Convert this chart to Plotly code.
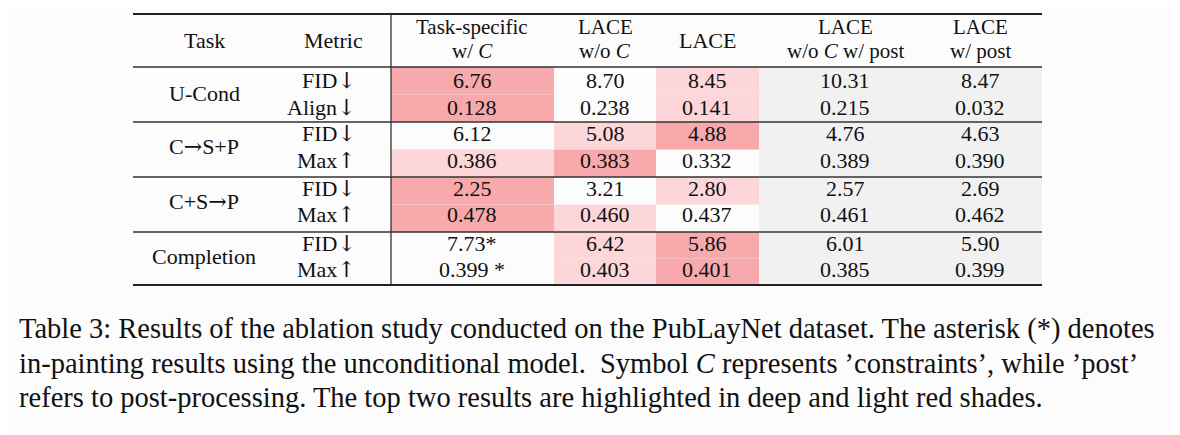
import plotly.graph_objects as go

# table content
ARR = "<span style='font-family:DejaVu Serif'>{}</span>"
DOWN, UP, RIGHT = ARR.format("\u2193"), ARR.format("\u2191"), ARR.format("\u2192")
tasks = ["U-Cond", "C" + RIGHT + "S+P", "C+S" + RIGHT + "P", "Completion"]
metrics = ["FID" + DOWN, "Align" + DOWN, "FID" + DOWN, "Max" + UP,
           "FID" + DOWN, "Max" + UP, "FID" + DOWN, "Max" + UP]
headers = [["Task-specific", "w/ <i>C</i>"], ["LACE", "w/o <i>C</i>"], ["LACE"],
           ["LACE", "w/o <i>C</i> w/ post"], ["LACE", "w/ post"]]
task_specific = ["6.76", "0.128", "6.12", "0.386", "2.25", "0.478", "7.73*", "0.399 *"]
lace_wo_c = ["8.70", "0.238", "5.08", "0.383", "3.21", "0.460", "6.42", "0.403"]
lace = ["8.45", "0.141", "4.88", "0.332", "2.80", "0.437", "5.86", "0.401"]
lace_wo_c_post = ["10.31", "0.215", "4.76", "0.389", "2.57", "0.461", "6.01", "0.385"]
lace_post = ["8.47", "0.032", "4.63", "0.390", "2.69", "0.462", "5.90", "0.399"]
# 1 = best (deep red), 2 = second (light red), 0 = none
rank_ts = [1, 1, 0, 2, 1, 1, 0, 0]
rank_wo_c = [0, 0, 2, 1, 0, 2, 2, 2]
rank_lace = [2, 2, 1, 0, 2, 0, 1, 1]

caption = [
    "Table 3: Results of the ablation study conducted on the PubLayNet dataset. The asterisk (*) denotes",
    "in-painting results using the unconditional model.  Symbol <i>C</i> represents \u2019constraints\u2019, while \u2019post\u2019",
    "refers to post-processing. The top two results are highlighted in deep and light red shades.",
]

# layout geometry (pixel-like axis units; page body has an 8px margin)
OFF = 8
col_edges = [391, 554, 656, 759, 930, 1042]
col_centers = [472, 605, 707, 845, 980]
task_x, metric_x, metric_right = 204, 333, 358
left, right = 133, 1042
top, head_bottom = 14, 67
group_edges = [67, 122, 177, 232, 285]
row_y = [80, 107, 133, 160, 188, 214, 243, 269]

deep, light, grey = "#f7a9ab", "#fcd6d8", "#f1f1f1"
font = "Liberation Serif"

fig = go.Figure()
shapes = []
annots = []

# grey post-processing columns
shapes.append(dict(type="rect", x0=col_edges[3], x1=right, y0=head_bottom, y1=group_edges[-1],
                   fillcolor=grey, line_width=0, layer="below"))

# highlighted cells
for ci, ranks in enumerate([rank_ts, rank_wo_c, rank_lace]):
    for ri, r in enumerate(ranks):
        if r == 0:
            continue
        g = ri // 2
        mid = (group_edges[g] + group_edges[g + 1]) / 2
        y0 = group_edges[g] if ri % 2 == 0 else mid
        y1 = mid if ri % 2 == 0 else group_edges[g + 1]
        shapes.append(dict(type="rect", x0=col_edges[ci], x1=col_edges[ci + 1], y0=y0, y1=y1,
                           fillcolor=deep if r == 1 else light, line_width=0, layer="below"))

# rules
shapes.append(dict(type="line", x0=left, x1=right, y0=top, y1=top, line=dict(color="#222", width=2)))
for y in group_edges[:-1]:
    shapes.append(dict(type="line", x0=left, x1=right, y0=y, y1=y, line=dict(color="#333", width=1.3)))
shapes.append(dict(type="line", x0=left, x1=right, y0=group_edges[-1], y1=group_edges[-1],
                   line=dict(color="#222", width=2)))
shapes.append(dict(type="line", x0=col_edges[0], x1=col_edges[0], y0=top, y1=group_edges[-1],
                   line=dict(color="#333", width=1.3)))

tf = dict(family=font, size=22, color="#111")
hf = dict(family=font, size=21, color="#111")


def add(x, y, text, f=tf, anchor="center"):
    annots.append(dict(x=x, y=y, text=text, xref="x", yref="y", showarrow=False, font=f,
                       xanchor=anchor, yanchor="middle"))


# header
add(task_x, 40, "Task")
add(metric_x, 40, "Metric")
for cx, h in zip(col_centers, headers):
    if len(h) == 1:
        add(cx, 40, h[0])
    else:
        add(cx, 27, h[0], hf)
        add(cx, 51, h[1], hf)

# body
for g, t in enumerate(tasks):
    add(task_x, (row_y[2 * g] + row_y[2 * g + 1]) / 2, t)
cols = [task_specific, lace_wo_c, lace, lace_wo_c_post, lace_post]
for ri, m in enumerate(metrics):
    add(metric_right, row_y[ri], m, anchor="right")
    for cx, col in zip(col_centers, cols):
        add(cx, row_y[ri], col[ri])

# caption
cf = dict(family=font, size=28.5, color="#111")
for i, line in enumerate(caption):
    add(17, 329 + i * 34, line, cf, anchor="left")

fig.update_layout(
    width=1180, height=435,
    margin=dict(l=0, r=0, t=0, b=0),
    paper_bgcolor="#fcfcfc", plot_bgcolor="#fcfcfc",
    xaxis=dict(range=[OFF, 1180 + OFF], visible=False, fixedrange=True),
    yaxis=dict(range=[435 + OFF, OFF], visible=False, fixedrange=True),
    shapes=shapes, annotations=annots, showlegend=False,
)

fig.write_html("out.html")
